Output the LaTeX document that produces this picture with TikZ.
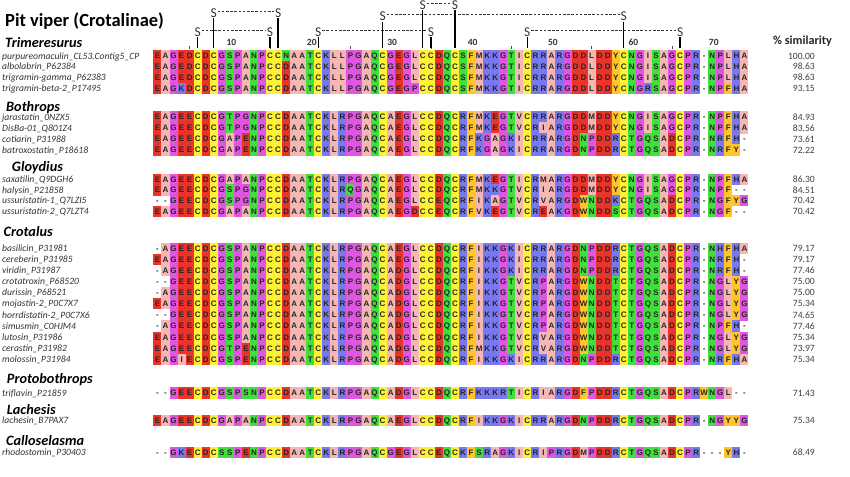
\documentclass[tikz,border=0pt]{standalone}
\usepackage{fontspec}
\setmainfont{Carlito}
\newfontfamily\seqfont{Liberation Sans}
\usepackage{xstring}
\usetikzlibrary{chains,positioning}

\definecolor{resA}{HTML}{F5B7B4}
\definecolor{resI}{HTML}{F5B7B4}
\definecolor{resL}{HTML}{F5B7B4}
\definecolor{resV}{HTML}{F5B7B4}
\definecolor{resM}{HTML}{F5B7B4}
\definecolor{resD}{HTML}{E8342A}
\definecolor{resE}{HTML}{E8342A}
\definecolor{resG}{HTML}{E055E2}
\definecolor{resP}{HTML}{E055E2}
\definecolor{resC}{HTML}{FFF236}
\definecolor{resS}{HTML}{3FDF3C}
\definecolor{resT}{HTML}{3FDF3C}
\definecolor{resN}{HTML}{3FDF3C}
\definecolor{resQ}{HTML}{3FDF3C}
\definecolor{resK}{HTML}{7878F0}
\definecolor{resR}{HTML}{7878F0}
\definecolor{resH}{HTML}{7878F0}
\definecolor{resF}{HTML}{FFC52A}
\definecolor{resY}{HTML}{FFC52A}
\definecolor{resW}{HTML}{FFC52A}

\newcommand\alnrow[5]{%
  \node[spname] (lab#1) at (2,#2) {#3};
  \node[pct] (pc#1) at (815,#2) {#4};
  \StrLen{#5}[\seqlen]%
  \begin{scope}[shift={(157.5,#2)},start chain=#1 going right]
    \foreach \c in {1,...,\seqlen} {
      \StrChar{#5}{\c}[\res]%
      \if\res-\node[gapcell,on chain] {-};\else\node[aares=\res,on chain] {\res};\fi
    }
  \end{scope}
}

\begin{document}
\begin{tikzpicture}[x=1pt,y=-1pt,node distance=-0.06pt,
    cell/.style={minimum width=8.1pt,minimum height=11.2pt,inner sep=0pt,outer sep=0pt,
      text height=5.8pt,text depth=0pt,font=\seqfont\bfseries\fontsize{8}{8}\selectfont,text=black!85},
    aares/.style={cell,fill=res#1},
    gapcell/.style={cell},
    spname/.style={anchor=west,inner sep=0pt,text height=6.2pt,text depth=0pt,
      font=\itshape\fontsize{9.6}{10}\selectfont,text=black!80},
    pct/.style={anchor=east,inner sep=0pt,text height=6.2pt,text depth=0pt,
      font=\fontsize{9.6}{10}\selectfont,text=black!75},
    title/.style={anchor=base west,inner sep=0pt,font=\bfseries\fontsize{18.5}{20}\selectfont},
    genus/.style={anchor=base west,inner sep=0pt,font=\bfseries\itshape\fontsize{14.3}{16}\selectfont},
    simhead/.style={anchor=base,inner sep=0pt,font=\bfseries\fontsize{12.2}{14}\selectfont,text=black!85},
    numlab/.style={anchor=base,inner sep=0pt,font=\bfseries\fontsize{9.5}{10}\selectfont,text=black!80},
    sulf/.style={inner sep=0.6pt,text depth=0pt,font=\fontsize{13.5}{14}\selectfont,text=black!80},
    bond/.style={black!80,line width=0.7pt,dash pattern=on 2.6pt off 1.6pt},
    link/.style={line width=1.3pt,shorten >=2.5pt},
    tick/.style={black!70,line width=0.6pt}
  ]
  \path[use as bounding box,fill=white] (0,0) rectangle (850,476);

  \node[title] (title) at (5,26.7) {Pit viper (Crotalinae)};
  \node[simhead] (simhead) at (802.5,44.5) {\% similarity};

  \node[genus] (gTrim) at (5,48) {Trimeresurus};
  \alnrow{t1}{56.0}{purpureomaculin\_CL53.Contig5\_CP}{100.00}{EAGEDCDCGSPANPCCNAATCKLLPGAQCGEGLCCDQCSFMKKGTICRRARGDDLDDYCNGISAGCPR-NPLHA}
  \alnrow{t2}{66.8}{albolabrin\_P62384}{98.63}{EAGEDCDCGSPANPCCDAATCKLLPGAQCGEGLCCDQCSFMKKGTICRRARGDDLDDYCNGISAGCPR-NPLHA}
  \alnrow{t3}{77.6}{trigramin-gamma\_P62383}{98.63}{EAGEDCDCGSPANPCCDAATCKLLPGAQCGEGLCCDQCSFMKKGTICRRARGDDLDDYCNGISAGCPR-NPLHA}
  \alnrow{t4}{88.4}{trigramin-beta-2\_P17495}{93.15}{EAGKDCDCGSPANPCCDAATCKLLPGAQCGEGPCCDQCSFMKKGTICRRARGDDLDDYCNGRSAGCPR-NPFHA}

  \node[genus] (gBoth) at (6,111) {Bothrops};
  \alnrow{b1}{117.0}{jarastatin\_0NZX5}{84.93}{EAGEECDCGTPGNPCCDAATCKLRPGAQCAEGLCCDQCRFMKEGTVCRRARGDDMDDYCNGISAGCPR-NPFHA}
  \alnrow{b2}{128.0}{DisBa-01\_Q801Z4}{83.56}{EAGEECDCGTPGNPCCDAATCKLRPGAQCAEGLCCDQCRFMKEGTVCRIARGDDMDDYCNGISAGCPR-NPFHA}
  \alnrow{b3}{139.0}{cotiarin\_P31988}{73.61}{EAGEECDCGAPENPCCDAATCKLRPGAQCAEGLCCDQCRFKGAGKICRRARGDNPDDRCTGQSADCPR-NRFH-}
  \alnrow{b4}{150.0}{batroxostatin\_P18618}{72.22}{EAGEECDCGAPENPCCDAATCKLRPGAQCAEGLCCDQCRFKGAGKICRRARGDNPDDRCTGQSADCPR-NRFY-}

  \node[genus] (gGloy) at (11.7,171.7) {Gloydius};
  \alnrow{g1}{179.3}{saxatilin\_Q9DGH6}{86.30}{EAGEECDCGAPANPCCDAATCKLRPGAQCAEGLCCDQCRFMKEGTICRMARGDDMDDYCNGISAGCPR-NPFHA}
  \alnrow{g2}{190.0}{halysin\_P21858}{84.51}{EAGEECDCGSPGNPCCDAATCKLRQGAQCAEGLCCDQCRFMKKGTVCRIARGDDMDDYCNGISAGCPR-NPF--}
  \alnrow{g3}{200.7}{ussuristatin-1\_Q7LZI5}{70.42}{--GEECDCGSPGNPCCDAATCKLRPGAQCAEGLCCEQCRFIKAGTVCRVARGDWNDDKCTGQSADCPR-NGFYG}
  \alnrow{g4}{211.4}{ussuristatin-2\_Q7LZT4}{70.42}{EAGEECDCGAPANPCCDAATCKLRPGAQCAEGDCCEQCRFVKEGTVCREAKGDWNDDSCTGQSADCPR-NGF--}

  \node[genus] (gCrot) at (3.5,236.7) {Crotalus};
  \alnrow{c1}{248.3}{basilicin\_P31981}{79.17}{-AGEECDCGSPANPCCDAATCKLRPGAQCAEGLCCDQCRFIKKGKICRRARGDNPDDRCTGQSADCPR-NHFHA}
  \alnrow{c2}{259.4}{cereberin\_P31985}{79.17}{EAGEECDCGSPANPCCDAATCKLRPGAQCAEGLCCDQCRFIKKGKICRRARGDNPDDRCTGQSADCPR-NRFH-}
  \alnrow{c3}{270.5}{viridin\_P31987}{77.46}{-AGEECDCGSPANPCCDAATCKLRPGAQCADGLCCDQCRFIKKGKICRRARGDNPDDRCTGQSADCPR-NRFH-}
  \alnrow{c4}{281.6}{crotatroxin\_P68520}{75.00}{--GEECDCGSPANPCCDAATCKLRPGAQCADGLCCDQCRFIKKGTVCRPARGDWNDDTCTGQSADCPR-NGLYG}
  \alnrow{c5}{292.7}{durissin\_P68521}{75.00}{-AGEECDCGSPANPCCDAATCKLRPGAQCADGLCCDQCRFIKKGTVCRPARGDWNDDTCTGQSADCPR-NGLYG}
  \alnrow{c6}{303.8}{mojastin-2\_P0C7X7}{75.34}{EAGEECDCGSPANPCCDAATCKLRPGAQCADGLCCDQCRFIKKGTVCRPARGDWNDDTCTGQSADCPR-NGLYG}
  \alnrow{c7}{314.9}{horrdistatin-2\_P0C7X6}{74.65}{--GEECDCGSPANPCCDAATCKLRPGAQCADGLCCDQCRFIKKGTVCRPARGDWNDDTCTGQSADCPR-NGLYG}
  \alnrow{c8}{326.0}{simusmin\_C0HJM4}{77.46}{-AGEECDCGSPANPCCDAATCKLRPGAQCADGLCCDQCRFIKKGTVCRPARGDWNDDTCTGQSADCPR-NPFH-}
  \alnrow{c9}{337.1}{lutosin\_P31986}{75.34}{EAGEECDCGSPANPCCDAATCKLRPGAQCADGLCCDQCRFIKKGTVCRVARGDWNDDTCTGQSADCPR-NGLYG}
  \alnrow{c10}{348.2}{cerastin\_P31982}{73.97}{EAGEECDCGTPENPCCDAATCKLRPGAQCADGLCCDQCRFMKKGTVCRVARGDWNDDTCTGQSADCPR-NGLYG}
  \alnrow{c11}{359.3}{molossin\_P31984}{75.34}{EAGIECDCGSPENPCCDAATCKLRPGAQCADGLCCDQCRFIKKGKICRRARGDNPDDRCTGQSADCPR-NRFHA}

  \node[genus] (gProt) at (6.7,383.3) {Protobothrops};
  \alnrow{p1}{393.0}{triflavin\_P21859}{71.43}{--GEECDCGSPSNPCCDAATCKLRPGAQCADGLCCDQCRFKKKRTICRIARGDFPDDRCTGQSADCPRWNGL--}

  \node[genus] (gLach) at (6.7,414) {Lachesis};
  \alnrow{l1}{420.7}{lachesin\_B7PAX7}{75.34}{EAGEECDCGAPANPCCDAATCKLRPGAQCAEGLCCDQCRFIKKGKICRRARGDNPDDRCTGQSADCPR-NGYYG}

  \node[genus] (gCall) at (6,445) {Calloselasma};
  \alnrow{k1}{452.7}{rhodostomin\_P30403}{68.49}{--GKECDCSSPENPCCDAATCKLRPGAQCGEGLCCEQCKFSRAGKICRIPRGDMPDDRCTGQSADCPR---YH-}

  % ruler
  \coordinate (numrow) at (0,45.8);
  \foreach \c in {10,20,...,70}
    \node[numlab,xshift=1.5pt] (n\c) at (t1-\c |- numrow) {\c};
  \foreach \c in {5,15,...,65}
    \draw[tick] ([yshift=1pt]t1-\c.north) -- ++(0,-3);

  % disulfide bridges
  \coordinate (lvA) at (0,31.7);
  \coordinate (lvB) at (0,16.5);
  \coordinate (lvC) at (0,13.3);
  \coordinate (lvD) at (0,5.0);
  \foreach \p/\q/\lv in {6/15/lvA,21/35/lvA,47/66/lvA,29/59/lvB,8/16/lvC,34/38/lvD} {
    \node[sulf] (s\p) at (t1-\p |- \lv) {S};
    \node[sulf] (s\q) at (t1-\q |- \lv) {S};
    \draw[bond] ([yshift=1.8pt]s\p.east) -- ([yshift=1.8pt]s\q.west);
    \draw[link] (s\p) -- (t1-\p);
    \draw[link] (s\q) -- (t1-\q);
  }
\end{tikzpicture}
\end{document}
